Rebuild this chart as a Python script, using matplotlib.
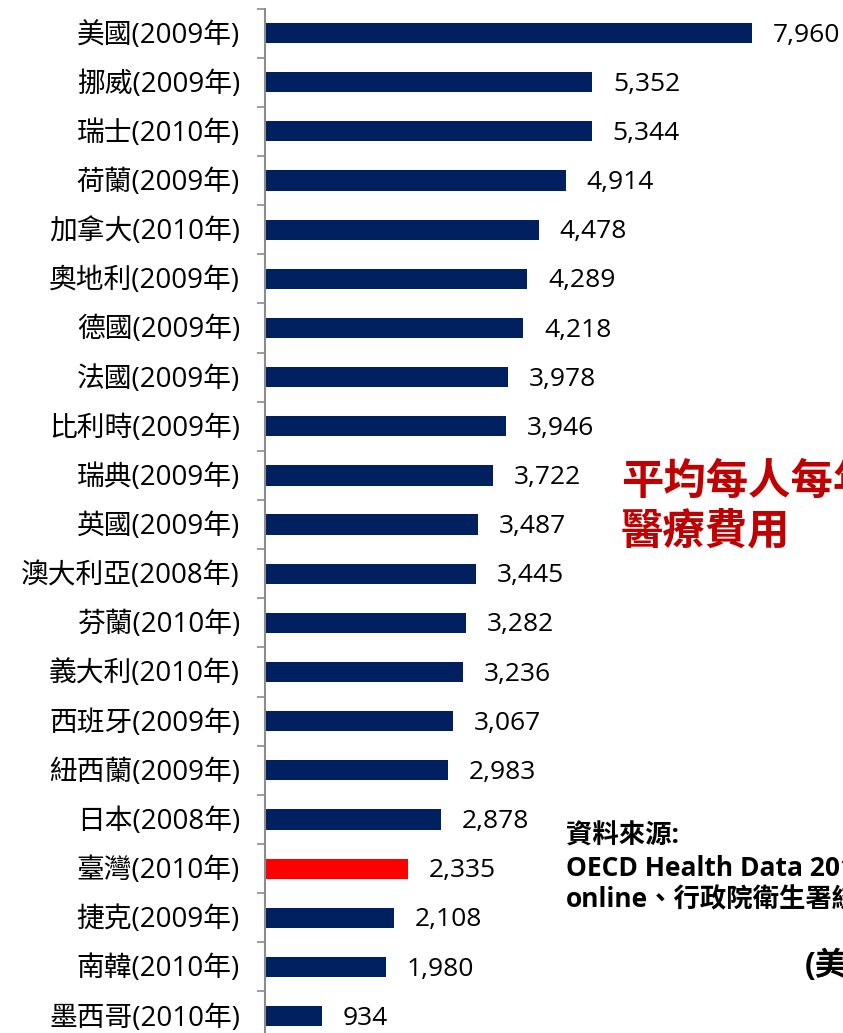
import numpy as np
import matplotlib.pyplot as plt

plt.rcParams['font.family'] = ['Open Sans', 'Noto Sans CJK TC', 'DejaVu Sans']

countries = ['美國(2009年)', '挪威(2009年)', '瑞士(2010年)', '荷蘭(2009年)',
             '加拿大(2010年)', '奧地利(2009年)', '德國(2009年)', '法國(2009年)',
             '比利時(2009年)', '瑞典(2009年)', '英國(2009年)', '澳大利亞(2008年)',
             '芬蘭(2010年)', '義大利(2010年)', '西班牙(2009年)', '紐西蘭(2009年)',
             '日本(2008年)', '臺灣(2010年)', '捷克(2009年)', '南韓(2010年)',
             '墨西哥(2010年)']
spending = [7960, 5352, 5344, 4914, 4478, 4289, 4218, 3978, 3946, 3722,
            3487, 3445, 3282, 3236, 3067, 2983, 2878, 2335, 2108, 1980, 934]
highlight = '臺灣(2010年)'

navy = '#002060'
red = '#FF0000'

W, H = 843, 1033
fig = plt.figure(figsize=(W / 100, H / 100), dpi=100)

# axes placed in pixel terms: spine at x=265, top boundary at y=8.5,
# each category 49.15 px tall (bottom runs past the figure edge)
left_px, top_px, step = 265, 8.5, 49.15
n = len(countries)
bottom_px = top_px + n * step
ax = fig.add_axes([left_px / W, 1 - bottom_px / H,
                   (W - left_px) / W, (bottom_px - top_px) / H])

y = np.arange(n)
colors = [red if c == highlight else navy for c in countries]
ax.barh(y, spending, height=0.41, color=colors)

ax.set_ylim(n - 0.5, -0.5)
ax.set_xlim(0, (W - left_px) / (487 / 7960))

for yi, v in zip(y, spending):
    ax.annotate('{:,}'.format(v), xy=(v, yi), xytext=(15, -1.5),
                textcoords='offset points', ha='left', va='center',
                fontsize=19, color='black')

# labels sit a hair below the bar centre (ticks themselves are hidden)
ax.set_yticks(y + 0.05)
ax.set_yticklabels(countries, fontsize=20, va='center')
ax.set_yticks(np.arange(n + 1) - 0.5, minor=True)
ax.tick_params(axis='y', which='major', length=0, pad=18)
ax.tick_params(axis='y', which='minor', length=6, width=1.2, color='#8c8c8c')
ax.set_xticks([])

for side in ['top', 'right', 'bottom']:
    ax.spines[side].set_visible(False)
ax.spines['left'].set_color('#8c8c8c')
ax.spines['left'].set_linewidth(1.5)

# annotations (partly cut off at the right edge, as in the original)
fig.text(621 / W, 1 - 483 / H, '平均每人每年', fontsize=30.5, fontweight='bold',
         color='#C00000', ha='left', va='center')
fig.text(621 / W, 1 - 533 / H, '醫療費用', fontsize=30.5, fontweight='bold',
         color='#C00000', ha='left', va='center')

fig.text(566 / W, 1 - 836 / H, '資料來源:', fontsize=19, fontweight='bold',
         ha='left', va='center')
fig.text(566 / W, 1 - 868 / H, 'OECD Health Data 2012', fontsize=19,
         fontweight='bold', ha='left', va='center')
fig.text(566 / W, 1 - 900 / H, 'online、行政院衛生署統計處', fontsize=19,
         fontweight='bold', ha='left', va='center')
fig.text(805 / W, 1 - 966 / H, '(美元)', fontsize=23, fontweight='bold',
         ha='left', va='center')

plt.savefig('out.png', dpi=100)
